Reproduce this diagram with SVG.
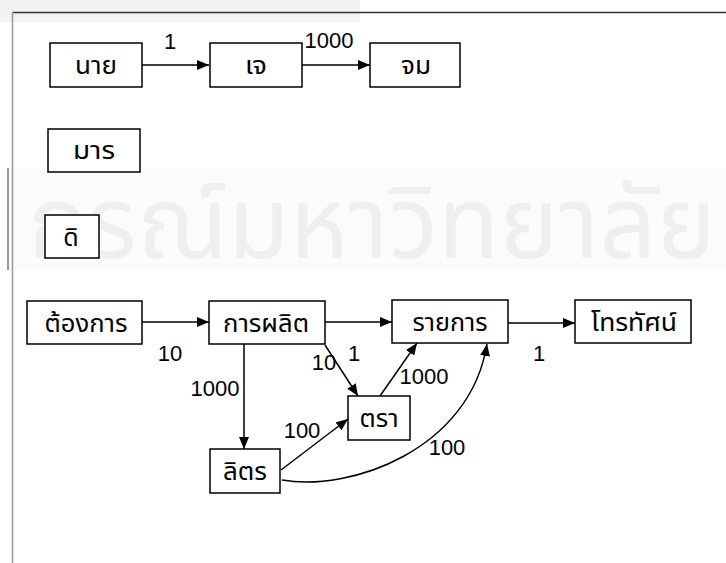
<svg xmlns="http://www.w3.org/2000/svg" width="726" height="563" viewBox="0 0 726 563">
  <style>
    .box { fill: #ffffff; stroke: #000000; stroke-width: 1.5; }
    .lbl { font-family: "Noto Sans Thai", "Noto Sans", "Liberation Sans", sans-serif; font-size: 25px; fill: #000000; text-anchor: middle; }
    .num { font-family: "Liberation Sans", "Noto Sans", sans-serif; font-size: 22px; fill: #000000; text-anchor: middle; }
    .edge { fill: none; stroke: #000000; stroke-width: 1.5; }
    .wm { font-family: "Noto Sans Thai", "Noto Sans", "Liberation Sans", sans-serif; font-size: 100px; fill: #efefef; }
  </style>
  <defs>
    <marker id="arr" viewBox="0 0 12 10" refX="12" refY="5" markerWidth="12" markerHeight="10" markerUnits="userSpaceOnUse" orient="auto">
      <path d="M0,0 L12,5 L0,10 Z" fill="#000000"/>
    </marker>
  </defs>

  <rect x="0" y="0" width="726" height="563" fill="#ffffff"/>

  <g id="background">
    <rect x="0" y="0" width="360" height="22" fill="#f2f2f2"/>
    <rect x="8" y="168" width="718" height="102" fill="#fbfbfb"/>
    <text class="wm" x="28" y="258" textLength="688" lengthAdjust="spacingAndGlyphs">กรณ์มหาวิทยาลัย</text>
    <line x1="12" y1="12.5" x2="726" y2="12.5" stroke="#333333" stroke-width="1.5"/>
    <line x1="12.5" y1="12" x2="12.5" y2="563" stroke="#999999" stroke-width="1.5"/>
    <line x1="8" y1="168" x2="8" y2="270" stroke="#777777" stroke-width="1.5"/>
  </g>

  <g id="connectors">
    <line class="edge" x1="142" y1="65" x2="209" y2="65" marker-end="url(#arr)"/>
    <line class="edge" x1="302" y1="65" x2="370" y2="65" marker-end="url(#arr)"/>
    <line class="edge" x1="142" y1="322" x2="209" y2="322" stroke-width="2" marker-end="url(#arr)"/>
    <line class="edge" x1="325" y1="322" x2="392" y2="322" marker-end="url(#arr)"/>
    <line class="edge" x1="508" y1="323" x2="575" y2="323" stroke-width="2" marker-end="url(#arr)"/>
    <line class="edge" x1="244" y1="344" x2="244" y2="449" marker-end="url(#arr)"/>
    <line class="edge" x1="325" y1="345" x2="358" y2="396" stroke-width="2" marker-end="url(#arr)"/>
    <line class="edge" x1="380" y1="396" x2="417" y2="343" stroke-width="2" marker-end="url(#arr)"/>
    <line class="edge" x1="281" y1="470" x2="348" y2="419" stroke-width="2" marker-end="url(#arr)"/>
    <path class="edge" d="M282,480 C350,492 470,450 487,344" stroke-width="2" marker-end="url(#arr)"/>
    <text class="num" x="170" y="49">1</text>
    <text class="num" x="329" y="48">1000</text>
    <text class="num" x="170" y="361">10</text>
    <text class="num" x="215" y="396">1000</text>
    <text class="num" x="324" y="370">10</text>
    <text class="num" x="354" y="361">1</text>
    <text class="num" x="424" y="384">1000</text>
    <text class="num" x="539" y="361">1</text>
    <text class="num" x="302" y="438">100</text>
    <text class="num" x="447" y="455">100</text>
  </g>

  <g id="node-nai">
    <rect class="box" x="50" y="43" width="92" height="44"/>
    <text class="lbl" x="96" y="74" textLength="42" lengthAdjust="spacingAndGlyphs">นาย</text>
  </g>
  <g id="node-je">
    <rect class="box" x="210" y="43" width="92" height="44"/>
    <text class="lbl" x="256" y="74" textLength="22" lengthAdjust="spacingAndGlyphs">เจ</text>
  </g>
  <g id="node-jom">
    <rect class="box" x="370" y="43" width="90" height="44"/>
    <text class="lbl" x="416" y="74" textLength="30" lengthAdjust="spacingAndGlyphs">จม</text>
  </g>
  <g id="node-man">
    <rect class="box" x="48" y="129" width="92" height="43"/>
    <text class="lbl" x="94" y="159" textLength="42" lengthAdjust="spacingAndGlyphs">มาร</text>
  </g>
  <g id="node-di">
    <rect class="box" x="45" y="215" width="54" height="43"/>
    <text class="lbl" x="71" y="246">ดิ</text>
  </g>
  <g id="node-tongkan">
    <rect class="box" x="27" y="301" width="115" height="43"/>
    <text class="lbl" x="86" y="332" textLength="83" lengthAdjust="spacingAndGlyphs">ต้องการ</text>
  </g>
  <g id="node-kanphalit">
    <rect class="box" x="209" y="301" width="116" height="43"/>
    <text class="lbl" x="266" y="332" textLength="86" lengthAdjust="spacingAndGlyphs">การผลิต</text>
  </g>
  <g id="node-raikan">
    <rect class="box" x="392" y="300" width="116" height="43"/>
    <text class="lbl" x="450" y="331" textLength="75" lengthAdjust="spacingAndGlyphs">รายการ</text>
  </g>
  <g id="node-thorathat">
    <rect class="box" x="575" y="300" width="116" height="43"/>
    <text class="lbl" x="634" y="331" textLength="86" lengthAdjust="spacingAndGlyphs">โทรทัศน์</text>
  </g>
  <g id="node-tra">
    <rect class="box" x="348" y="396" width="62" height="44"/>
    <text class="lbl" x="379" y="427" textLength="39" lengthAdjust="spacingAndGlyphs">ตรา</text>
  </g>
  <g id="node-lit">
    <rect class="box" x="210" y="449" width="70" height="44"/>
    <text class="lbl" x="245" y="480" textLength="44" lengthAdjust="spacingAndGlyphs">ลิตร</text>
  </g>
</svg>
